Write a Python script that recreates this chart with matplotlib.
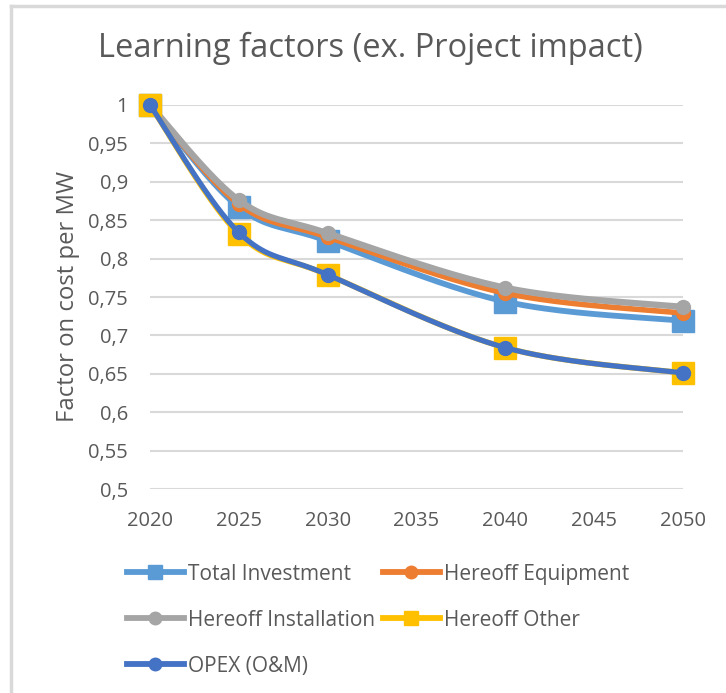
import numpy as np
import matplotlib.pyplot as plt
from matplotlib.lines import Line2D

years = [2020, 2025, 2030, 2040, 2050]
total_investment = [1.0, 0.867, 0.823, 0.744, 0.719]
hereoff_equipment = [1.0, 0.871, 0.828, 0.755, 0.729]
hereoff_installation = [1.0, 0.876, 0.833, 0.762, 0.737]
hereoff_other = [1.0, 0.832, 0.779, 0.684, 0.651]
opex = [1.0, 0.834, 0.779, 0.684, 0.651]

series_names = ["Total Investment", "Hereoff Equipment", "Hereoff Installation",
                "Hereoff Other", "OPEX (O&M)"]
series_values = [total_investment, hereoff_equipment, hereoff_installation,
                 hereoff_other, opex]
series_colors = ["#5B9BD5", "#ED7D31", "#A5A5A5", "#FFC000", "#4472C4"]
series_markers = ["s", "o", "o", "s", "o"]
series_widths = [4.2, 4.0, 4.6, 4.0, 3.8]

x_ticks = [2020, 2025, 2030, 2035, 2040, 2045, 2050]
y_ticks = [0.5, 0.55, 0.6, 0.65, 0.7, 0.75, 0.8, 0.85, 0.9, 0.95, 1.0]

TEXT = "#595959"
GRID = "#D9D9D9"
FONT = "Open Sans"
plt.rcParams["font.family"] = [FONT, "DejaVu Sans"]


def smooth(xs, ys, steps=40):
    """Bezier smoothing through every point, the way spreadsheet line charts do it."""
    p = np.column_stack([xs, ys]).astype(float)
    p = np.vstack([p[0], p, p[-1]])
    out = []
    t = np.linspace(0, 1, steps)[:, None]
    for i in range(1, len(p) - 2):
        b0, b3 = p[i], p[i + 1]
        b1 = b0 + (p[i + 1] - p[i - 1]) / 6
        b2 = b3 - (p[i + 2] - p[i]) / 6
        seg = ((1 - t) ** 3) * b0 + 3 * ((1 - t) ** 2) * t * b1 \
            + 3 * (1 - t) * t ** 2 * b2 + t ** 3 * b3
        out.append(seg if i == 1 else seg[1:])
    seg = np.vstack(out)
    return seg[:, 0], seg[:, 1]


fig = plt.figure(figsize=(7.26, 6.93), dpi=100)
ax = fig.add_axes([150 / 726, 1 - 489 / 693, 533 / 726, 384 / 693])

for k, (name, vals, col, mk, lw) in enumerate(zip(series_names, series_values,
                                                   series_colors, series_markers,
                                                   series_widths)):
    sx, sy = smooth(years, vals)
    ax.plot(sx, sy, color=col, lw=lw, solid_capstyle="round", zorder=3 + k,
            clip_on=False)
    ms = 16.5 if mk == "s" else 10
    ax.plot(years, vals, ls="none", marker=mk, ms=ms, color=col, mec=col,
            zorder=3 + k, clip_on=False)

ax.set_xlim(2020, 2050)
ax.set_ylim(0.5, 1.0)
ax.set_xticks(x_ticks)
ax.set_yticks(y_ticks)
ax.set_yticklabels([f"{v:g}".replace(".", ",") for v in y_ticks])
ax.tick_params(length=0, labelsize=14.5, colors=TEXT, pad=16)
ax.tick_params(axis="x", pad=15.5)
ax.grid(axis="y", color=GRID, lw=1.5)
ax.set_axisbelow(True)
for s in ax.spines.values():
    s.set_visible(False)
ax.set_ylabel("Factor on cost per MW", fontsize=17.2, color=TEXT, labelpad=6)

fig.text(370 / 726, 1 - 48 / 693, "Learning factors (ex. Project impact)",
         ha="center", va="center", fontsize=23.5, color=TEXT)

# light frame of the chart area
fig.add_artist(Line2D([11 / 726, 11 / 726], [0, 1 - 6 / 693], color=GRID, lw=2.5,
                      transform=fig.transFigure))
fig.add_artist(Line2D([11 / 726, 1], [1 - 6 / 693, 1 - 6 / 693], color=GRID, lw=2.5,
                      transform=fig.transFigure))

# legend fills column by column, so order entries to read row by row
order = [0, 2, 4, 1, 3]
handles = [Line2D([], [], color=series_colors[i], lw=4.2, marker=series_markers[i],
                  ms=(9.5 if series_markers[i] == "s" else 9), mec=series_colors[i])
           for i in order]
fig.legend(handles, [series_names[i] for i in order], loc="upper left", ncol=2,
           frameon=False, bbox_to_anchor=(108 / 726, 1 - 545 / 693), fontsize=15,
           labelcolor=TEXT, handlelength=2.75, handletextpad=0.2,
           columnspacing=0.35, labelspacing=1.2)

fig.savefig("out.png", dpi=100, facecolor="white")
